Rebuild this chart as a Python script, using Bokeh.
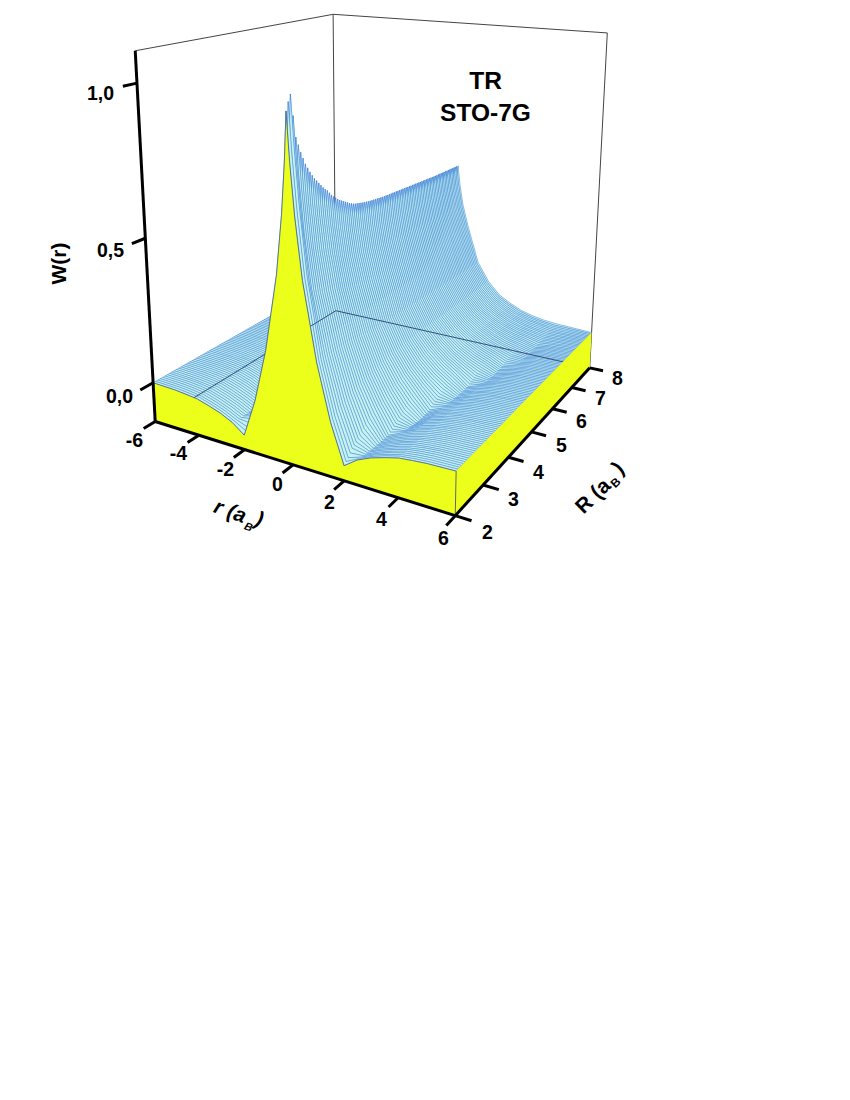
import numpy as np
from bokeh.plotting import figure
from bokeh.models import Range1d
from bokeh.core.properties import value
from bokeh.embed import file_html
from bokeh.resources import INLINE

# ---- values ----
r_pos = [0, .1, .25, .5, 1, 1.5, 2, 2.5, 3, 3.5, 4, 4.5, 5, 6]   # surface is mirror-symmetric in r
R_values = [2 + i * 0.0625 for i in range(97)]
# W(r, R) in thousandths, one row per R line
W00 = [970,820,660,470,220,40,-90,-58,-38,-24,-12,-7,-3,0]
W01 = [995,840,678,476,221,45,-82,-59,-39,-24,-12,-7,-3,0]
W02 = [1015,860,690,480,222,50,-75,-60,-40,-25,-13,-7,-3,0]
W03 = [950,805,645,455,221,55,-65,-61,-41,-25,-13,-7,-3,0]
W04 = [885,745,600,430,220,60,-55,-62,-42,-26,-13,-7,-3,0]
W05 = [860,725,585,422,220,64,-50,-62,-42,-26,-13,-7,-3,0]
W06 = [835,705,570,415,219,67,-45,-63,-43,-27,-14,-7,-3,0]
W07 = [815,690,558,410,219,70,-40,-63,-43,-27,-14,-7,-3,0]
W08 = [795,675,545,405,218,74,-35,-64,-44,-27,-14,-8,-4,0]
W09 = [780,662,538,401,218,77,-28,-64,-44,-27,-14,-8,-4,0]
W10 = [765,650,530,398,217,80,-22,-65,-44,-28,-14,-8,-4,0]
W11 = [752,640,524,395,217,83,-16,-65,-45,-28,-14,-8,-4,0]
W12 = [740,630,518,392,216,85,-10,-65,-45,-28,-15,-8,-4,0]
W13 = [730,622,513,390,216,88,-5,-65,-45,-28,-15,-8,-4,0]
W14 = [720,615,508,388,215,90,0,-65,-45,-28,-15,-8,-4,0]
W15 = [710,607,504,386,215,93,5,-65,-45,-28,-15,-8,-4,0]
W16 = [700,600,500,385,215,95,10,-65,-45,-28,-15,-8,-4,0]
W17 = [692,594,495,381,214,96,12,-60,-46,-28,-15,-8,-4,0]
W18 = [685,588,490,377,214,98,15,-55,-48,-29,-15,-8,-4,0]
W19 = [675,580,484,373,213,99,17,-50,-49,-29,-16,-8,-4,0]
W20 = [665,571,478,370,212,100,20,-46,-50,-29,-16,-9,-4,0]
W21 = [657,564,473,367,212,102,22,-42,-51,-29,-16,-9,-4,0]
W22 = [650,558,468,365,211,103,25,-38,-52,-30,-16,-9,-4,0]
W23 = [643,553,464,362,211,104,27,-34,-53,-30,-16,-9,-4,0]
W24 = [637,548,460,360,210,105,30,-30,-54,-30,-17,-9,-4,0]
W25 = [632,543,457,358,210,107,32,-26,-54,-30,-17,-9,-4,0]
W26 = [627,539,454,357,209,108,35,-22,-54,-31,-17,-9,-5,0]
W27 = [622,535,451,355,209,109,37,-18,-54,-31,-17,-9,-5,0]
W28 = [617,531,449,354,208,110,40,-14,-53,-31,-17,-10,-5,0]
W29 = [612,527,446,353,207,111,42,-10,-53,-31,-18,-10,-5,0]
W30 = [608,524,444,352,206,113,45,-7,-52,-32,-18,-10,-5,0]
W31 = [604,522,442,351,206,114,47,-3,-51,-32,-18,-10,-5,0]
W32 = [601,520,440,350,205,115,50,0,-50,-32,-18,-10,-5,0]
W33 = [599,519,439,349,205,115,51,2,-45,-32,-18,-10,-5,0]
W34 = [597,517,438,349,204,116,52,4,-40,-33,-18,-10,-5,0]
W35 = [595,515,437,348,204,116,54,6,-36,-33,-19,-10,-5,0]
W36 = [593,514,436,347,204,116,55,8,-32,-34,-19,-10,-5,0]
W37 = [591,512,435,347,203,117,56,10,-28,-34,-19,-10,-5,0]
W38 = [590,511,434,346,203,117,57,12,-24,-35,-19,-11,-5,0]
W39 = [588,509,433,345,203,118,59,14,-20,-35,-19,-11,-5,0]
W40 = [587,508,432,345,202,118,60,16,-16,-36,-20,-11,-5,0]
W41 = [586,507,431,344,202,118,61,18,-13,-36,-20,-11,-5,0]
W42 = [585,506,430,344,202,118,62,20,-11,-36,-20,-11,-6,0]
W43 = [584,505,429,343,202,119,64,22,-9,-36,-20,-11,-6,0]
W44 = [583,504,428,343,201,119,65,23,-7,-36,-21,-12,-6,0]
W45 = [582,503,427,342,201,119,66,25,-5,-36,-21,-12,-6,0]
W46 = [581,502,426,341,201,119,67,27,-3,-35,-21,-12,-6,0]
W47 = [580,501,426,341,200,120,69,29,-1,-35,-21,-12,-6,0]
W48 = [579,500,425,340,200,120,70,30,0,-35,-22,-12,-6,0]
W49 = [579,500,425,340,200,120,70,31,2,-31,-23,-12,-6,0]
W50 = [578,499,424,339,199,120,71,32,3,-28,-24,-12,-6,0]
W51 = [578,499,424,339,199,120,71,32,4,-25,-24,-12,-6,0]
W52 = [577,499,424,339,199,120,71,33,5,-22,-25,-13,-6,0]
W53 = [577,499,423,338,199,120,72,34,7,-19,-25,-13,-6,0]
W54 = [576,498,423,338,198,120,72,35,8,-16,-26,-13,-6,0]
W55 = [576,498,423,338,198,120,72,35,9,-13,-26,-13,-6,0]
W56 = [575,498,423,338,198,120,73,36,10,-11,-26,-13,-6,0]
W57 = [575,498,422,337,198,120,73,37,11,-9,-26,-13,-6,0]
W58 = [574,497,422,337,197,120,73,38,12,-7,-25,-14,-6,0]
W59 = [574,497,422,337,197,120,73,38,13,-5,-25,-14,-6,0]
W60 = [573,497,421,336,196,120,74,39,14,-4,-24,-14,-6,0]
W61 = [573,497,421,336,196,120,74,40,15,-3,-24,-14,-6,0]
W62 = [572,496,421,336,196,120,74,41,16,-2,-23,-14,-6,0]
W63 = [572,496,420,335,196,120,74,41,17,-1,-23,-14,-6,0]
W64 = [571,495,420,335,195,120,75,42,18,0,-22,-14,-6,0]
W65 = [571,495,420,335,195,120,75,42,18,1,-19,-14,-6,0]
W66 = [570,495,419,335,195,120,75,43,19,2,-17,-15,-6,0]
W67 = [570,495,419,334,195,120,75,43,19,2,-15,-15,-6,0]
W68 = [569,494,419,334,194,120,75,43,20,3,-13,-15,-6,0]
W69 = [569,494,418,334,194,120,75,44,20,3,-11,-15,-6,0]
W70 = [568,493,418,334,194,120,75,44,21,4,-10,-15,-6,0]
W71 = [568,493,418,334,194,120,75,44,21,4,-8,-15,-6,0]
W72 = [567,493,418,334,194,120,75,45,22,5,-7,-15,-6,0]
W73 = [567,493,417,333,193,120,75,45,22,5,-6,-15,-6,0]
W74 = [566,492,417,333,193,120,75,45,23,6,-5,-14,-6,0]
W75 = [566,492,417,333,193,120,75,45,23,7,-4,-14,-6,0]
W76 = [565,491,416,333,193,120,75,46,24,8,-3,-14,-6,0]
W77 = [565,491,416,332,192,120,75,46,24,8,-2,-14,-6,0]
W78 = [564,491,416,332,192,120,75,46,24,9,-1,-13,-6,0]
W79 = [564,490,415,332,192,120,75,46,25,9,0,-13,-6,0]
W80 = [563,490,415,332,192,120,75,47,25,10,0,-12,-6,0]
W81 = [563,490,415,332,192,120,75,47,25,10,1,-11,-6,0]
W82 = [563,490,415,332,192,120,75,47,26,11,2,-9,-5,0]
W83 = [563,490,414,332,191,120,75,47,26,11,2,-8,-5,0]
W84 = [562,489,414,331,191,120,75,48,26,12,3,-7,-4,0]
W85 = [562,489,414,331,191,120,75,48,26,12,3,-6,-4,0]
W86 = [562,489,414,331,191,120,75,48,27,13,4,-5,-3,0]
W87 = [562,489,413,331,191,120,75,48,27,13,4,-4,-3,0]
W88 = [561,489,413,331,191,120,75,48,28,14,5,-3,-2,0]
W89 = [561,489,413,331,191,120,75,48,28,14,5,-2,-2,0]
W90 = [561,488,413,331,191,120,75,49,28,15,6,-1,-1,0]
W91 = [561,488,413,330,191,120,75,49,28,15,7,0,-1,0]
W92 = [560,488,413,330,190,120,75,49,29,16,8,1,0,0]
W93 = [560,488,412,330,190,120,75,49,29,16,8,2,1,0]
W94 = [560,488,412,330,190,120,75,50,29,17,9,3,2,0]
W95 = [560,488,412,330,190,120,75,50,30,17,9,4,3,0]
W96 = [560,488,412,330,190,120,75,50,30,18,10,6,4,0]
W_rows = [globals()[f"W{i:02d}"] for i in range(97)]

r_ticks = [-6, -4, -2, 0, 2, 4, 6]
R_ticks = [2, 3, 4, 5, 6, 7, 8]
W_ticks = [0.0, 0.5, 1.0]
W_tick_labels = ["0,0", "0,5", "1,0"]

# ---- camera: a projective map from (r, R, W) to page pixels ----
ZB, ZT = -0.14, 1.1
cal = [(-6,2,ZB,155,421),(6,2,ZB,453,516),(6,8,ZB,590,367),(-6,8,ZB,335,310),
       (-6,2,0,153,381),(6,2,0,454,467),(6,8,0,589,332),(-6,2,.5,145,237),(-6,2,1,137,83),
       (-6,2,ZT,134,50),(-6,8,ZT,332,14),(6,8,ZT,608,33),(0,2,ZB,293,466),
       (6,4,ZB,510,457),(6,6,ZB,553,408),(-2,2,ZB,245,450),(2,2,ZB,343,482)]
A, b = [], []
for X, Y, Z, u, v in cal:
    A.append([X,Y,Z,1,0,0,0,0,-u*X,-u*Y,-u*Z]); b.append(u)
    A.append([0,0,0,0,X,Y,Z,1,-v*X,-v*Y,-v*Z]); b.append(v)
m = np.linalg.lstsq(np.array(A, float), np.array(b, float), rcond=None)[0]
P = np.append(m, 1).reshape(3, 4)

def proj(r, R, W):
    r, R, W = np.broadcast_arrays(np.asarray(r, float), np.asarray(R, float), np.asarray(W, float))
    h = P @ np.vstack([r.ravel(), R.ravel(), W.ravel(), np.ones(r.size)])
    return (h[0] / h[2]).tolist(), (h[1] / h[2]).tolist()

p = figure(width=840, height=1090, x_range=Range1d(0, 840), y_range=Range1d(1090, 0),
           toolbar_location=None, output_backend="svg", min_border=0, outline_line_color=None)
p.axis.visible = False
p.grid.visible = False
p.background_fill_color = "white"

FONT = value("Liberation Sans")
YEL = "#ebff1a"

def seg(a, b, color, width):
    x, y = proj(*zip(a, b))
    p.line(x, y, line_color=color, line_width=width)

# back frame
for a, b_ in [((-6,2,ZT),(-6,8,ZT)), ((-6,8,ZT),(6,8,ZT)), ((6,8,ZT),(6,8,ZB)), ((-6,8,ZT),(-6,8,ZB))]:
    seg(a, b_, "#444444", 1)

# surface, one ribbon between neighbouring R lines, painted back to front
r_full = [-v for v in r_pos[:0:-1]] + r_pos
def full(row):
    return [v / 1000 for v in row[:0:-1]] + [v / 1000 for v in row]
xs, ys = [], []
for i in range(len(R_values) - 1, 0, -1):
    x1, y1 = proj(r_full, R_values[i], full(W_rows[i]))
    x0, y0 = proj(r_full, R_values[i - 1], full(W_rows[i - 1]))
    xs.append(x1 + x0[::-1]); ys.append(y1 + y0[::-1])
p.patches(xs, ys, fill_color="#c6f3ee", line_color="#3a7fd6", line_width=0.5, line_join="bevel")

# floor lines seen through the surface
seg((-6,2,ZB), (-6,8,ZB), "#33507a", 1)
seg((-6,8,ZB), (6,8,ZB), "#33507a", 1)

# yellow faces
x, y = proj([6, 6, 6, 6], [2, 8, 8, 2], [0, 0, ZB, ZB])
p.patch(x, y, fill_color=YEL, line_color=None)
w0 = full(W_rows[0])
x, y = proj(r_full + [6, -6], 2, w0 + [ZB, ZB])
p.patch(x, y, fill_color=YEL, line_color=None)
x, y = proj(r_full, 2, w0)
p.line(x, y, line_color="#4a6a98", line_width=0.9, line_join="bevel")
seg((6,2,0), (6,2,ZB), "#666666", 1)

# axes
seg((-6,2,ZT), (-6,2,ZB), "black", 3)
seg((-6,2,ZB), (6,2,ZB), "black", 3)
seg((6,2,ZB), (6,8,ZB), "black", 3)
for t in r_ticks:
    seg((t,2,ZB), (t,1.7,ZB), "black", 3)
for t in R_ticks:
    seg((6,t,ZB), (6.55,t,ZB), "black", 3)
for t in W_ticks:
    seg((-6,2,t), (-6,1.67,t), "black", 3)

def label(x, y, s, size=19.5, angle=0, style="bold"):
    p.text([x], [y], text=[s], text_font=FONT, text_font_size=f"{size}px", text_font_style=style,
           text_align="center", text_baseline="middle", angle=np.deg2rad(angle), text_color="black")

for s, (x, y) in zip(W_tick_labels, [(119,395),(110,249),(100,92)]):
    label(x, y, s)
for t, (x, y) in zip(r_ticks, [(134,439),(178,452),(225,468),(277,483),(329,501),(381,518),(443,537)]):
    label(x, y, str(t))
for t, (x, y) in zip(R_ticks, [(487,531),(513,498),(538,471),(561,444),(581,420),(600,397),(617,377)]):
    label(x, y, str(t))
label(485, 80, "TR", 24.5)
label(485, 112, "STO-7G", 24.5)
label(58, 263, "W(r)", 21, 90)
label(230, 510, "r (a", 21, -20, "bold italic")
label(248, 526, "B", 11, -20, "bold italic")
label(259, 518, ")", 21, -20, "bold italic")
label(592, 495, "R (a", 21, 44)
label(615, 482, "B", 12, 44)
label(617, 467, ")", 21, 44)

open("out.html", "w").write(file_html(p, INLINE))
